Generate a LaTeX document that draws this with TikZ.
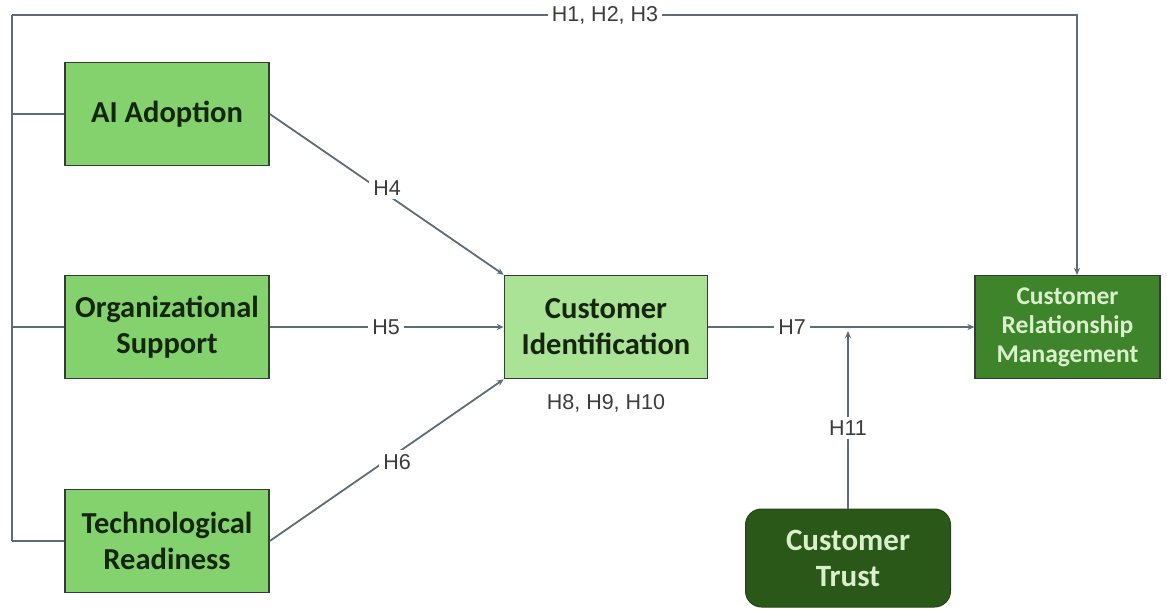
\documentclass[tikz,border=0pt]{standalone}
\usepackage{fontspec}
\setmainfont{Carlito}
\newfontfamily\labfont{Liberation Sans}
\usetikzlibrary{arrows.meta}
\definecolor{lightbox}{RGB}{131,210,110}
\definecolor{paleBox}{RGB}{170,226,150}
\definecolor{crmgreen}{RGB}{62,132,42}
\definecolor{trustgreen}{RGB}{42,88,24}
\definecolor{edgecol}{RGB}{50,62,50}
\definecolor{linecol}{RGB}{92,108,120}
\definecolor{darktext}{RGB}{22,38,14}
\definecolor{lighttext}{RGB}{218,240,204}
\definecolor{labcol}{RGB}{60,60,60}
\tikzset{
  lightnode/.style={draw=edgecol, line width=1.6pt, fill=lightbox, minimum width=204pt, minimum height=103pt, align=center, font=\fontsize{30.5}{36}\selectfont\bfseries, text=darktext, inner sep=0pt},
  palenode/.style={lightnode, fill=paleBox, minimum width=203pt},
  crmnode/.style={draw=edgecol, line width=1.2pt, fill=crmgreen, minimum width=185pt, minimum height=103pt, align=center, font=\fontsize{25.5}{29}\selectfont\bfseries, text=lighttext, inner sep=0pt},
  trustnode/.style={draw=trustgreen!80!black, line width=1pt, fill=trustgreen, rounded corners=16pt, minimum width=205pt, minimum height=98pt, align=center, font=\fontsize{31}{36}\selectfont\bfseries, text=lighttext, inner sep=0pt},
  conn/.style={draw=linecol, line width=1.8pt},
  arr/.style={conn, -{Stealth[length=7pt,width=6pt]}},
  hlab/.style={fill=white, text=labcol, font=\labfont\fontsize{21.5}{24}\selectfont, inner sep=4pt}
}
\begin{document}
\begin{tikzpicture}[x=1pt,y=-1pt]
\useasboundingbox (0,0) rectangle (1167,610);
\node[lightnode] (ai) at (167,114) {AI Adoption};
\node[lightnode] (org) at (167,327) {Organizational\\Support};
\node[lightnode] (tech) at (167,541) {Technological\\Readiness};
\node[palenode] (ci) at (606,327) {Customer\\Identification};
\node[crmnode] (crm) at (1067.5,327) {Customer\\Relationship\\Management};
\node[trustnode] (ct) at (848,558) {Customer\\Trust};
\coordinate (tl) at (12,15);
\coordinate (bl) at (12,541);
\coordinate (tr) at (1077,15);
\coordinate (junc) at (848,331);
% left bus
\draw[conn] (bl) -- (tech.west);
\draw[conn] (bl) -- (tl);
\draw[conn] (12,114) -- (ai.west);
\draw[conn] (12,327) -- (org.west);
\draw[arr] (tl) -- (tr) -- (tr |- crm.north);
\node[hlab] (h123) at (605,15) {H1, H2, H3};
% to CI
\draw[arr] (ai.east) -- (ci.north west);
\node[hlab] (h4) at (387,188) {H4};
\draw[arr] (org.east) -- (ci.west);
\node[hlab] (h5) at (386,327) {H5};
\draw[arr] (tech.east) -- (ci.south west);
\node[hlab] (h6) at (397,462) {H6};
\node[text=labcol, font=\labfont\fontsize{21.5}{24}\selectfont] (h8) at (606,403) {H8, H9, H10};
% to CRM
\draw[arr] (ci.east) -- (crm.west);
\node[hlab] (h7) at (792,327) {H7};
\draw[arr] (ct.north) -- (junc);
\node[hlab] (h11) at (848,428) {H11};
\end{tikzpicture}
\end{document}
